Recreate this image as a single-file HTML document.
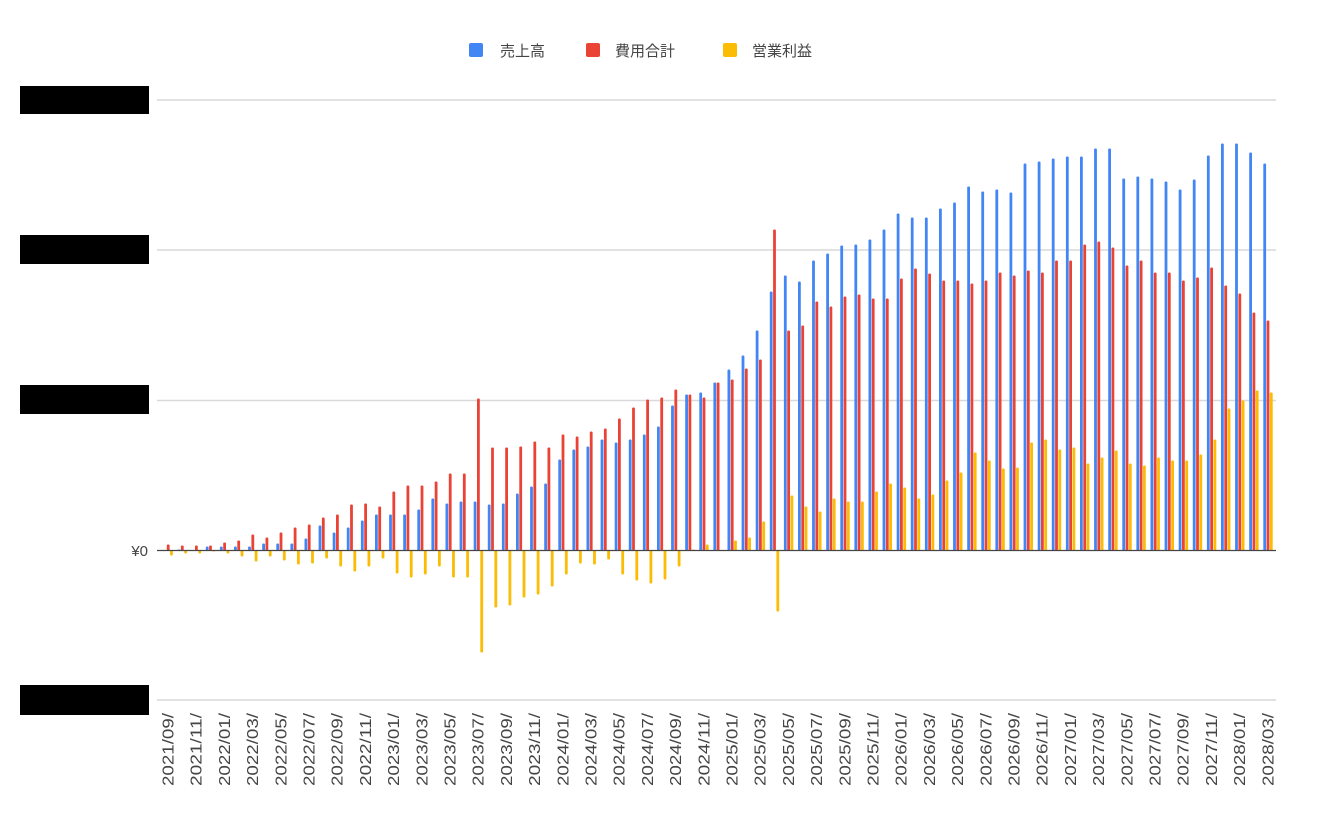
<!DOCTYPE html>
<html><head><meta charset="utf-8"><style>
body{margin:0;background:#fff;}
svg{display:block;font-family:"Liberation Sans","Noto Sans CJK JP",sans-serif;}
</style></head><body>
<svg id="c" width="1324" height="825" xmlns="http://www.w3.org/2000/svg">
<rect width="1324" height="825" fill="#fff"/>
<g stroke="#d9d9d9" stroke-width="1.5">
<line x1="157" y1="100" x2="1276" y2="100"/>
<line x1="157" y1="250" x2="1276" y2="250"/>
<line x1="157" y1="400.5" x2="1276" y2="400.5"/>
<line x1="157" y1="700" x2="1276" y2="700"/>
</g>
<rect x="20" y="86" width="129" height="28" fill="#000"/>
<rect x="20" y="235" width="129" height="29" fill="#000"/>
<rect x="20" y="385" width="129" height="29" fill="#000"/>
<rect x="20" y="685" width="129" height="30" fill="#000"/>
<text x="148" y="556" font-size="15" fill="#444" text-anchor="end">¥0</text>
<rect x="469" y="43" width="14" height="14" rx="2" fill="#4285f4"/>
<text x="500" y="56" font-size="15" fill="#444">売上高</text>
<rect x="586" y="43" width="14" height="14" rx="2" fill="#ea4335"/>
<text x="615" y="56" font-size="15" fill="#444">費用合計</text>
<rect x="723" y="43" width="14" height="14" rx="2" fill="#fbbc04"/>
<text x="752" y="56" font-size="15" fill="#444">営業利益</text>
<g id="bars"></g>
<line x1="157" y1="550.5" x2="1276" y2="550.5" stroke="#444" stroke-width="1.2"/>
<g id="labels" font-size="16" fill="#444"></g>
</svg>
<script>
var B=[0,1,0,4,4,4,4,7,7,7,12,25,18,23,30,36,36,36,41,52,47,49,49,46,47,57,64,67,
91,101,104,111,108,111,116,124,145,156,158,168,181,195,220,259,275,269,290,297,305,306,311,321,337,
333,333,342,348,364,359,361,358,387,389,392,394,394,402,402,372,374,372,369,361,371,395,407,407,398,387];
var R=[6,5,5,5,8,10,16,13,18,23,26,33,36,46,47,44,59,65,65,69,77,77,152,103,103,104,109,103,
116,114,119,122,132,143,151,153,161,156,153,168,171,182,191,321,220,225,249,244,254,256,252,252,272,
282,277,270,270,267,270,278,275,280,278,290,290,306,309,303,285,290,278,278,270,273,283,265,257,238,230];
var Y=[-5,-3,-3,-1,-3,-6,-11,-6,-10,-14,-13,-8,-16,-21,-16,-8,-23,-27,-24,-16,-27,-27,-102,-57,-55,-47,-44,-36,
-24,-13,-14,-9,-24,-30,-33,-29,-16,1,6,0,10,13,29,-61,55,44,39,52,49,49,59,67,63,
52,56,70,78,98,90,82,83,108,111,101,103,87,93,100,87,85,93,90,90,96,111,142,150,160,158];
var ns="http://www.w3.org/2000/svg",g=document.getElementById("bars"),L=document.getElementById("labels");
function r(x,v,c){var e=document.createElementNS(ns,"rect");var y0=550.5;
e.setAttribute("x",x);e.setAttribute("width",2.8);
if(v>=0){e.setAttribute("y",y0-v);e.setAttribute("height",v);}else{e.setAttribute("y",y0);e.setAttribute("height",-v);}
e.setAttribute("rx",1.1);e.setAttribute("fill",c);g.appendChild(e);}
for(var i=0;i<79;i++){var x=163.5+14.1*i;
r(x,B[i],"#4285f4");r(x+3.3,R[i],"#ea4335");r(x+6.6,Y[i],"#fbbc04");
if(i%2==0){var yr=2021,m=9+i;yr+=Math.floor((m-1)/12);m=((m-1)%12)+1;
var t=document.createElementNS(ns,"text");var cx=x+10;
t.setAttribute("transform","translate("+cx+",713) rotate(-90)");t.setAttribute("text-anchor","end");
t.setAttribute("textLength","73");t.setAttribute("lengthAdjust","spacingAndGlyphs");
t.textContent=yr+"/"+(m<10?"0":"")+m+"/";L.appendChild(t);}}
</script>
</body></html>
